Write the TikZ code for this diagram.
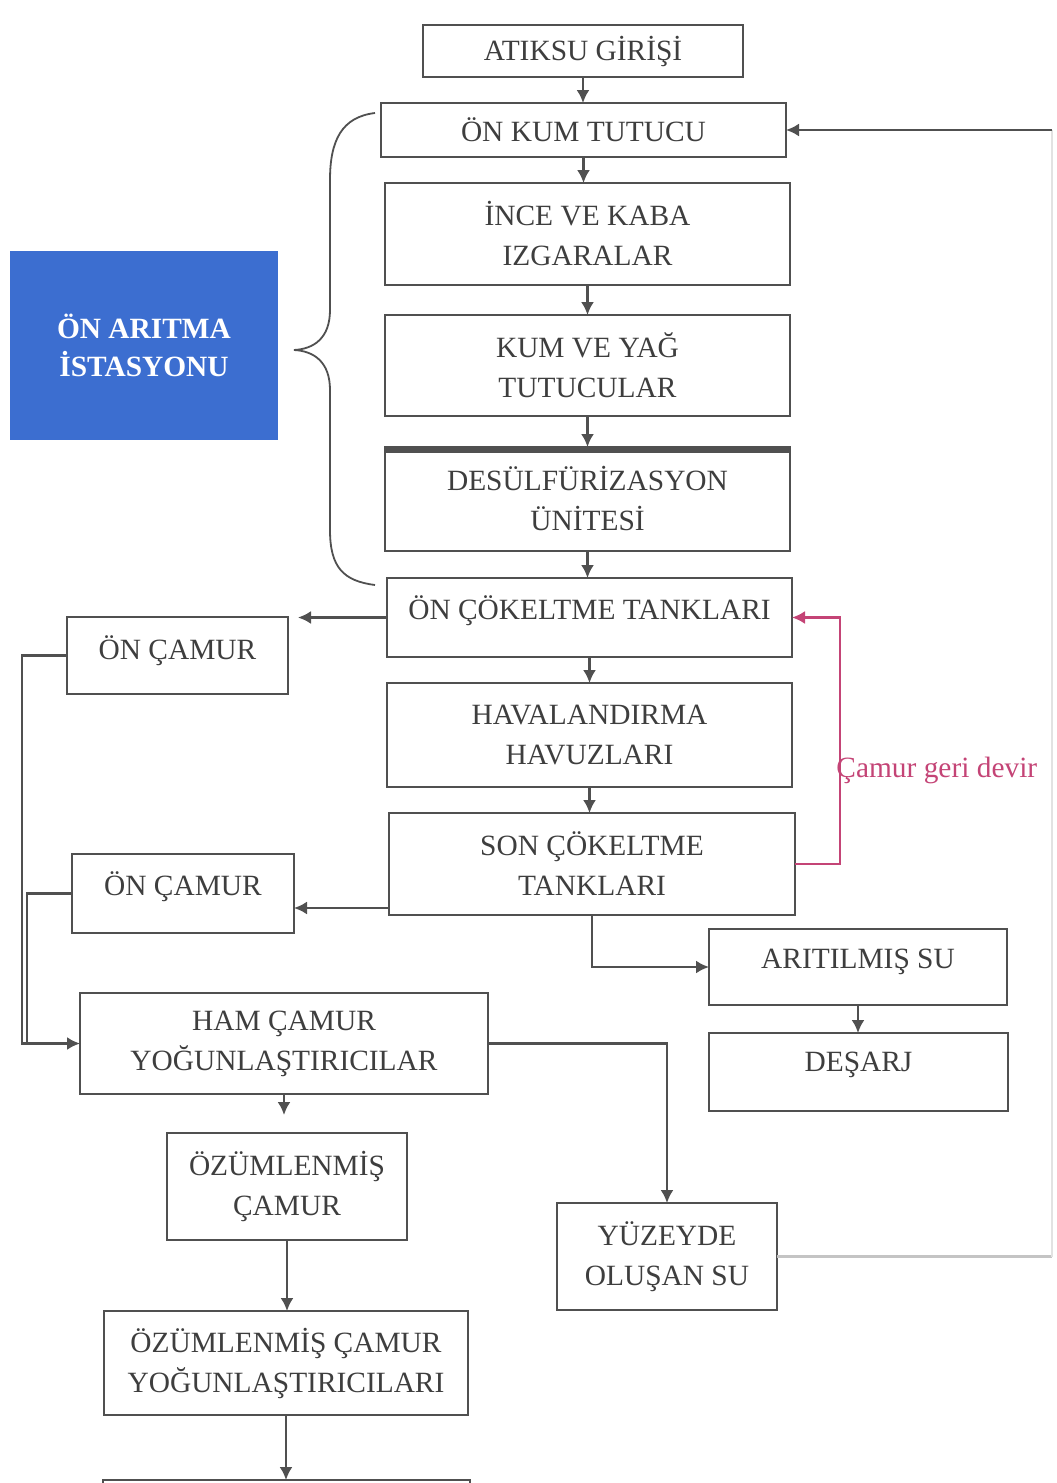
\documentclass[tikz,border=0pt]{standalone}
\usepackage{fontspec}
\setmainfont{Liberation Serif}
\usetikzlibrary{arrows.meta}

\definecolor{ink}{HTML}{3E3E3E}
\definecolor{edge}{HTML}{505050}
\definecolor{panelblue}{RGB}{60,110,208}
\definecolor{recycle}{RGB}{196,68,118}
\definecolor{returnlow}{HTML}{C4C4C4}
\definecolor{returnside}{HTML}{E2E2E2}

\tikzset{
  pbox/.style={draw=edge, line width=1.1pt, fill=white, inner sep=0pt, outer sep=0pt,
    align=center, text=ink, font=\fontsize{14.7}{20}\selectfont},
  flow/.style={draw=edge, line width=1.1pt, -{Latex[length=6.5pt,width=6.5pt]}},
  plainline/.style={draw=edge, line width=1.1pt},
  recycleflow/.style={draw=recycle, line width=1.1pt, -{Latex[length=6.5pt,width=6.5pt]}},
  panel/.style={fill=panelblue, inner sep=0pt, text=white, align=center,
    font=\fontsize{14.7}{19}\selectfont\bfseries},
  bracket/.style={draw=edge, line width=0.9pt},
  textup/.style={text depth=#1},
}

% process box given by its corners (x1,y1) and (x2,y2), in pixel units
\newcommand\procbox[7][]{%
  \node[pbox, minimum width={(#5-#3)*0.5pt}, minimum height={(#6-#4)*0.5pt}, #1]
    (#2) at ({(#3+#5)/2},{(#4+#6)/2}) {#7};}

\begin{document}
\begin{tikzpicture}[x=0.5pt,y=-0.5pt]
\useasboundingbox (0,0) rectangle (1056,1483);
\clip (0,0) rectangle (1056,1483);

% main treatment line
\procbox{atik}{423}{25}{743}{77}{ATIKSU GİRİŞİ}
\procbox{onkum}{381}{103}{786}{157}{ÖN KUM TUTUCU}
\procbox{izg}{385}{183}{790}{285}{İNCE VE KABA\\IZGARALAR}
\procbox{kum}{385}{315}{790}{416}{KUM VE YAĞ\\TUTUCULAR}
\procbox{des}{385}{447}{790}{551}{DESÜLFÜRİZASYON\\ÜNİTESİ}
\draw[edge, line width=3.2pt] ([yshift=-1.2pt]des.north west) -- ([yshift=-1.2pt]des.north east);
\procbox[textup=10pt]{oncok}{387}{578}{792}{657}{ÖN ÇÖKELTME TANKLARI}
\procbox{hav}{387}{683}{792}{787}{HAVALANDIRMA\\HAVUZLARI}
\procbox{son}{389}{813}{795}{915}{SON ÇÖKELTME\\TANKLARI}

% sludge and effluent branches
\procbox[textup=8pt]{oc1}{67}{617}{288}{694}{ÖN ÇAMUR}
\procbox[textup=10pt]{oc2}{72}{854}{294}{933}{ÖN ÇAMUR}
\procbox[textup=8pt]{arit}{709}{929}{1007}{1005}{ARITILMIŞ SU}
\procbox[textup=10pt]{desarj}{709}{1033}{1008}{1111}{DEŞARJ}
\procbox{ham}{80}{993}{488}{1094}{HAM ÇAMUR\\YOĞUNLAŞTIRICILAR}
\procbox{oz}{167}{1133}{407}{1240}{ÖZÜMLENMİŞ\\ÇAMUR}
\procbox{yuz}{557}{1203}{777}{1310}{YÜZEYDE\\OLUŞAN SU}
\procbox{ozy}{104}{1311}{468}{1415}{ÖZÜMLENMİŞ ÇAMUR\\YOĞUNLAŞTIRICILARI}
\procbox{next}{103}{1480}{470}{1580}{}

% pre-treatment panel and its brace
\node[panel, minimum width=134pt, minimum height=94.5pt] (pre) at (144,345.5) {ÖN ARITMA\\İSTASYONU};
\draw[bracket] (375,113) .. controls (342,117) and (330,140) .. (330,180)
  -- (330,310) .. controls (330,338) and (314,349) .. (294,350)
  .. controls (314,351) and (330,362) .. (330,390)
  -- (330,530) .. controls (330,568) and (344,581) .. (375,585);

% helper coordinates
\coordinate (y908) at (0,908);
\coordinate (oc1tip) at (298,617.5);
\coordinate (busA) at (22,0);
\coordinate (busB) at (27,0);
\coordinate (rc) at (840,0);
\coordinate (fbTop) at (1052,130);

% main line arrows
\draw[flow] (atik.south) -- (atik.south |- onkum.north);
\draw[flow] (onkum.south) -- (onkum.south |- izg.north);
\draw[flow] (izg.south) -- (izg.south |- kum.north);
\draw[flow] (kum.south) -- (kum.south |- des.north);
\draw[flow] (des.south) -- (des.south |- oncok.north);
\draw[flow] (oncok.south) -- (oncok.south |- hav.north);
\draw[flow] (hav.south) -- (hav.south |- son.north);

% sludge lines
\draw[flow] (oncok.west) -- (oc1tip);
\draw[flow] (son.west |- y908) -- (oc2.east |- y908);
\draw[flow] (oc1.west) -| (busA |- ham.west) -- (ham.west);
\draw[plainline] (oc2.west) -| (busB |- ham.west);

% effluent
\draw[flow] (son.south) |- (arit.west);
\draw[flow] (arit.south) -- (arit.south |- desarj.north);

% thickening and digestion
\draw[flow] (ham.east) -| (yuz.north);
\draw[flow, shorten >=9pt] (ham.south) -- (ham.south |- oz.north);
\draw[flow] (oz.south) -- (oz.south |- ozy.north);
\draw[flow] (ozy.south) -- (ozy.south |- next.north);

% supernatant return to the grit chamber
\draw[returnlow, line width=1.1pt] (yuz.east) -- (yuz.east -| fbTop);
\draw[returnside, line width=1.1pt] (yuz.east -| fbTop) -- (fbTop);
\draw[flow] (fbTop) -- (onkum.east |- fbTop);

% return sludge
\draw[recycleflow] (son.east) -| (rc |- oncok.east) -- (oncok.east);
\node[text=recycle, anchor=west, inner sep=0pt, font=\fontsize{14.7}{20}\selectfont] (lbl) at (836,770) {Çamur geri devir};
\end{tikzpicture}
\end{document}
